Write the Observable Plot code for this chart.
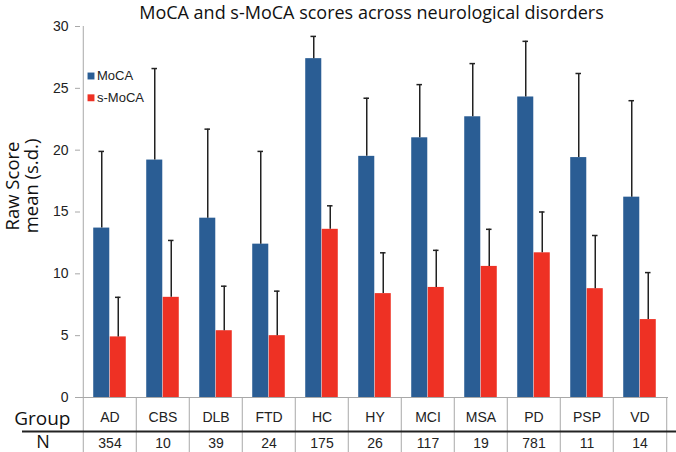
<!DOCTYPE html>
<html><head><meta charset="utf-8">
<script src="https://cdn.jsdelivr.net/npm/d3@7"></script>
<script src="https://cdn.jsdelivr.net/npm/@observablehq/plot@0.6"></script>
<style>body{margin:0;background:#fff} #chart svg{display:block}</style>
</head><body><div id="chart"></div>
<script>
const groups = ["AD","CBS","DLB","FTD","HC","HY","MCI","MSA","PD","PSP","VD"];
const nCounts = [354,10,39,24,175,26,117,19,781,11,14];
const mocaMean = [13.7,19.2,14.5,12.4,27.4,19.5,21.0,22.7,24.3,19.4,16.2];
const mocaSD = [6.2,7.4,7.2,7.5,1.8,4.7,4.3,4.3,4.5,6.8,7.8];
const smocaMean = [4.9,8.1,5.4,5.0,13.6,8.4,8.9,10.6,11.7,8.8,6.3];
const smocaSD = [3.2,4.6,3.6,3.6,1.9,3.3,3.0,3.0,3.3,4.3,3.8];
const yTicks = [0,5,10,15,20,25,30];
const seriesNames = ["MoCA","s-MoCA"];
const titleText = "MoCA and s-MoCA scores across neurological disorders";

const rows = groups.map((g,i)=>({group:g, n:nCounts[i], moca:mocaMean[i], mocaSD:mocaSD[i], smoca:smocaMean[i], smocaSD:smocaSD[i]}));

const W=676, H=452, mL=80, mR=8, mT=26, mB=55;
const bw = (W-mL-mR)/groups.length;
const barW = 16.5, capW = 6;
const cBlue = "#2a5d94", cRed = "#ee3124", cErr = "#222", cGrid = "#a8a8a8";
const sans = "Liberation Sans, Arial, sans-serif";
const humanist = "Open Sans, sans-serif";

const chart = Plot.plot({
  width: W, height: H,
  marginLeft: mL, marginRight: mR, marginTop: mT, marginBottom: mB,
  style: {fontFamily: sans, fontSize: "14px", color: "#222", background: "#fff"},
  x: {type: "band", domain: groups, padding: 0, axis: null},
  y: {domain: [0,30], axis: null},
  marks: [
    // axis line & table dividers
    Plot.ruleX([groups[0]], {x: d=>d, dx: -bw/2, insetBottom: -mB, stroke: cGrid}),
    Plot.ruleX(groups.slice(1), {x: d=>d, dx: -bw/2, insetTop: H-mT-mB, insetBottom: -mB, stroke: cGrid}),
    Plot.ruleX([groups[groups.length-1]], {x: d=>d, dx: bw/2, insetTop: H-mT-mB, insetBottom: -mB, stroke: cGrid}),
    Plot.ruleY([0], {stroke: cGrid}),
    Plot.axisY(yTicks, {tickSize: 5, tickPadding: 7, stroke: cGrid, label: null, fontSize: 14}),
    // bars
    Plot.barY(rows, {x: "group", y: "moca", fill: cBlue, insetLeft: bw/2 - barW, insetRight: bw/2}),
    Plot.barY(rows, {x: "group", y: "smoca", fill: cRed, insetLeft: bw/2, insetRight: bw/2 - barW}),
    // error bars
    Plot.ruleX(rows, {x: "group", y1: "moca", y2: d=>d.moca+d.mocaSD, dx: -barW/2, stroke: cErr, strokeWidth: 1.5}),
    Plot.tickY(rows, {x: "group", y: d=>d.moca+d.mocaSD, insetLeft: bw/2 - barW/2 - capW/2, insetRight: bw/2 + barW/2 - capW/2, stroke: cErr, strokeWidth: 1.5}),
    Plot.ruleX(rows, {x: "group", y1: "smoca", y2: d=>d.smoca+d.smocaSD, dx: barW/2, stroke: cErr, strokeWidth: 1.5}),
    Plot.tickY(rows, {x: "group", y: d=>d.smoca+d.smocaSD, insetLeft: bw/2 + barW/2 - capW/2, insetRight: bw/2 - barW/2 - capW/2, stroke: cErr, strokeWidth: 1.5}),
    // legend
    Plot.dot([seriesNames[0]], {frameAnchor: "top-left", dx: 10.5, dy: 49.5, symbol: "square", r: 3.9, fill: cBlue, stroke: null}),
    Plot.dot([seriesNames[1]], {frameAnchor: "top-left", dx: 10.5, dy: 71.3, symbol: "square", r: 3.9, fill: cRed, stroke: null}),
    Plot.text([seriesNames[0]], {text: d=>d, frameAnchor: "top-left", dx: 16.5, dy: 49.5, textAnchor: "start", lineAnchor: "middle", fontSize: 13, fill: "#222"}),
    Plot.text([seriesNames[1]], {text: d=>d, frameAnchor: "top-left", dx: 16.5, dy: 71.3, textAnchor: "start", lineAnchor: "middle", fontSize: 13, fill: "#222"}),
    // title
    Plot.text([titleText], {text: d=>d, frameAnchor: "top", dy: -13, dx: -3, lineAnchor: "middle", fontSize: 18, fontFamily: humanist, fill: "#111"}),
    // y label
    Plot.text(["Raw Score"], {text: d=>d, frameAnchor: "left", dx: -62, dy: -26, rotate: -90, textAnchor: "middle", lineAnchor: "bottom", fontSize: 18.5, fontFamily: humanist, fill: "#111"}),
    Plot.text(["mean (s.d.)"], {text: d=>d, frameAnchor: "left", dx: -43, dy: -26, rotate: -90, textAnchor: "middle", lineAnchor: "bottom", fontSize: 18.5, fontFamily: humanist, fill: "#111"}),
    // table
    Plot.ruleY([0], {dy: 34, insetLeft: -58, insetRight: -mR, stroke: "#222", strokeWidth: 2}),
    Plot.text(rows, {x: "group", text: "group", frameAnchor: "bottom", dy: 20, lineAnchor: "middle", fontSize: 14, fill: "#222"}),
    Plot.text(rows, {x: "group", text: d=>String(d.n), frameAnchor: "bottom", dy: 46, lineAnchor: "middle", fontSize: 14, fill: "#222"}),
    Plot.text(["Group"], {text: d=>d, frameAnchor: "bottom-left", dx: -10, dy: 21, textAnchor: "end", lineAnchor: "middle", fontSize: 19, fontFamily: humanist, fill: "#111"}),
    Plot.text(["N"], {text: d=>d, frameAnchor: "bottom-left", dx: -37.5, dy: 44.5, textAnchor: "middle", lineAnchor: "middle", fontSize: 18, fontFamily: humanist, fill: "#111"})
  ]
});
document.getElementById("chart").appendChild(chart);
</script>
</body></html>
